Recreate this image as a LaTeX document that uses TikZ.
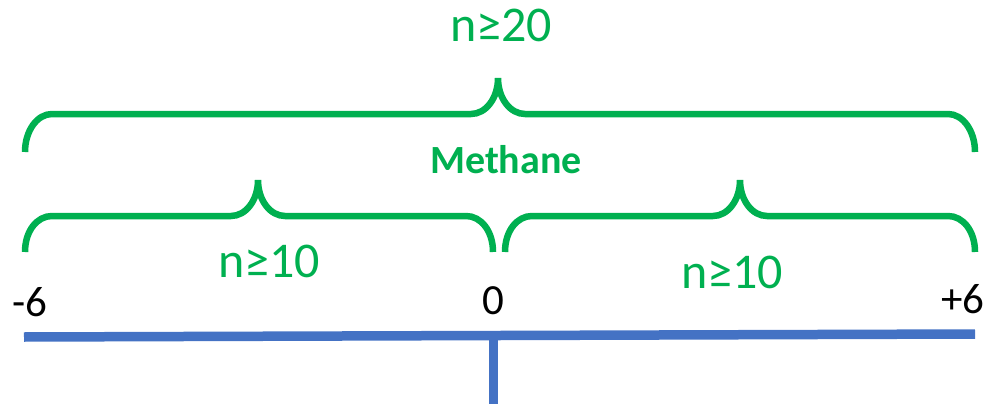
\documentclass[tikz,border=0pt]{standalone}
\usepackage{fontspec}
\setmainfont{Carlito}
\definecolor{brgreen}{RGB}{0,176,80}
\definecolor{axblue}{RGB}{68,114,196}
\tikzset{
  brace/.style={draw=brgreen, line width=6.5pt, line cap=butt},
  nlabel/.style={text=brgreen, font=\fontsize{50}{60}\selectfont, anchor=base, inner sep=0pt},
  tick/.style={font=\fontsize{43}{52}\selectfont, anchor=base, inner sep=0pt},
  axis/.style={draw=axblue, line width=9.5pt}
}
\begin{document}
\begin{tikzpicture}[x=1pt,y=-1pt]
\useasboundingbox (0,0) rectangle (985,404);
% braces
\draw[brace] (25,152) .. controls (25,131) and (37,114) .. (52,114) -- (471,114)
  .. controls (486,114) and (498,98) .. (498,78)
  .. controls (498,98) and (510,114) .. (525,114) -- (948,114)
  .. controls (963,114) and (975,131) .. (975,152);
\draw[brace] (25,252) .. controls (25,231) and (37,216) .. (52,216) -- (231,216)
  .. controls (246,216) and (258,200) .. (258,180)
  .. controls (258,200) and (270,216) .. (285,216) -- (466,216)
  .. controls (481,216) and (493,231) .. (493,252);
\draw[brace] (505,252) .. controls (505,231) and (517,216) .. (532,216) -- (713,216)
  .. controls (728,216) and (740,200) .. (740,180)
  .. controls (740,200) and (752,216) .. (767,216) -- (948,216)
  .. controls (963,216) and (975,231) .. (975,252);
% labels
\node[nlabel] (all) at (501,42) {n≥20};
\node[text=brgreen, font=\fontsize{40}{48}\selectfont\bfseries, anchor=base, inner sep=0pt] (gas) at (506,173) {Methane};
\node[nlabel] (neg) at (269,277) {n≥10};
\node[nlabel] (pos) at (732,288) {n≥10};
% axis
\node[tick] (lo) at (30,316) {-6};
\node[tick] (mid) at (493,314) {0};
\node[tick] (hi) at (963,313) {+6};
\coordinate (left) at (24,337);
\coordinate (right) at (975,334);
\coordinate (top) at (493,336);
\coordinate (foot) at (493,404);
\draw[axis] (left) -- (right);
\draw[axis, line width=9pt] (top) -- (foot);
\end{tikzpicture}
\end{document}
